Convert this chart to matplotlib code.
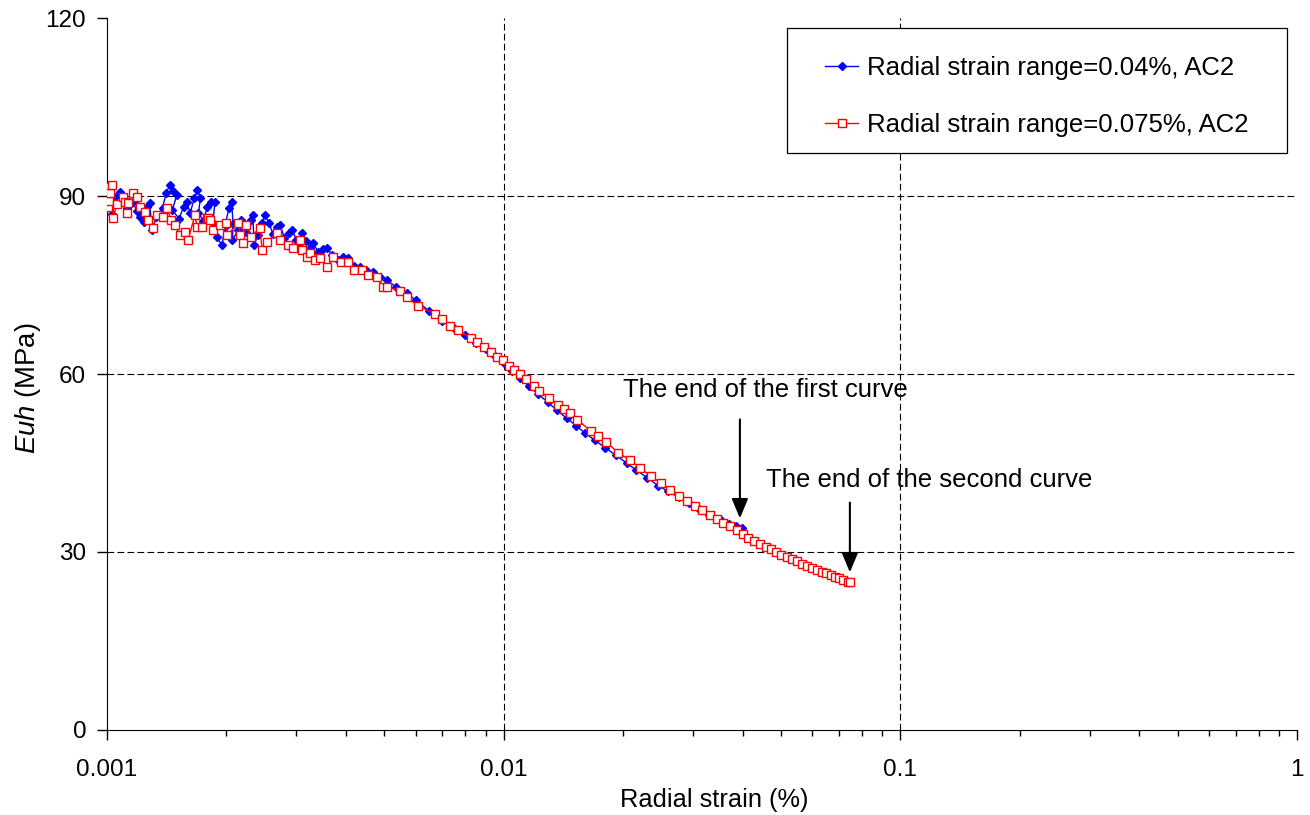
import matplotlib
matplotlib.use('Agg')
import matplotlib.pyplot as plt
from matplotlib.patches import Rectangle
import numpy as np

plt.rcParams['font.family'] = ['Liberation Sans', 'DejaVu Sans']
plt.rcParams['mathtext.fontset'] = 'custom'
plt.rcParams['mathtext.it'] = 'Liberation Sans:italic'
plt.rcParams['mathtext.rm'] = 'Liberation Sans'

# radial strain values below are in units of 1e-3 %
blue_x = [1.00, 1.01, 1.03, 1.05, 1.08, 1.10, 1.12, 1.16, 1.19, 1.21, 1.24, 1.26, 1.28,
          1.30, 1.33, 1.38, 1.41, 1.44, 1.47, 1.50, 1.46, 1.52, 1.56, 1.59, 1.62, 1.66,
          1.69, 1.72, 1.70, 1.75, 1.79, 1.83, 1.87, 1.85, 1.89, 1.95, 1.98, 2.03, 2.06,
          2.08, 2.07, 2.14, 2.18, 2.24, 2.30, 2.33, 2.35, 2.40, 2.46, 2.50, 2.56, 2.62,
          2.68, 2.73, 2.80, 2.88, 2.93, 3.00, 3.07, 3.10, 3.18, 3.25, 3.31, 3.40, 3.50,
          3.59, 3.70, 3.82, 3.94, 4.05, 4.20, 4.35, 4.50, 4.69, 4.88, 5.08, 5.35, 5.70,
          6.0, 6.5, 7.0, 7.5, 8.0, 8.5, 9.0, 9.5, 10.0, 10.5, 11.0, 11.6, 12.2, 12.9,
          13.6, 14.4, 15.2, 16.0, 17.0, 18.0, 19.2, 20.4, 21.6, 23.0, 24.5, 26.0, 27.6,
          29.3, 31.0, 33.0, 35.0, 37.0, 38.5, 39.9]
blue_y = [88.5, 90.2, 87.0, 89.8, 90.7, 89.5, 88.0, 89.0, 87.5, 86.5, 85.6, 88.2, 88.8,
          84.3, 86.5, 88.0, 90.5, 91.9, 90.8, 90.2, 87.6, 86.2, 88.2, 89.0, 87.1, 89.7,
          91.0, 89.7, 87.1, 85.8, 88.2, 89.0, 89.0, 85.5, 83.1, 81.7, 84.8, 88.0, 89.0,
          85.2, 82.6, 84.2, 86.0, 84.0, 86.0, 86.8, 81.7, 83.5, 85.5, 86.8, 85.5, 83.6,
          84.8, 85.1, 83.0, 83.8, 84.3, 82.6, 81.4, 83.8, 82.5, 81.3, 82.1, 80.6, 81.0,
          81.2, 80.0, 79.2, 79.7, 79.6, 78.2, 78.0, 77.6, 77.2, 76.4, 75.8, 74.7, 73.7,
          72.4, 70.6, 69.0, 67.7, 66.5, 65.3, 64.2, 63.0, 61.8, 60.5, 59.3, 57.9, 56.6,
          55.3, 53.9, 52.6, 51.3, 50.1, 48.8, 47.6, 46.3, 45.0, 43.8, 42.5, 41.2, 40.2,
          39.2, 38.2, 37.3, 36.3, 35.5, 34.8, 34.4, 34.0]

red_x = [1.000, 1.003, 1.006, 1.012, 1.018, 1.029, 1.035, 1.06, 1.097, 1.11, 1.123, 1.129,
         1.163, 1.19, 1.21, 1.247, 1.27, 1.306, 1.337, 1.384, 1.416, 1.45, 1.484, 1.527,
         1.572, 1.600, 1.667, 1.686, 1.74, 1.787, 1.80, 1.82, 1.85, 1.93, 1.99, 2.01, 2.14,
         2.17, 2.20, 2.24, 2.30, 2.43, 2.46, 2.53, 2.68, 2.73, 2.86, 2.95, 3.07, 3.10,
         3.20, 3.25, 3.35, 3.44, 3.59, 3.71, 3.88, 4.05, 4.20, 4.39, 4.55, 4.79, 4.95,
         5.07, 5.49, 5.70, 6.09, 6.70, 7.00, 7.34, 7.66, 8.26, 8.58, 8.94, 9.30, 9.62,
         9.98, 10.31, 10.63, 10.99, 11.36, 11.94, 12.29, 13.01, 13.73, 14.21, 14.69,
         15.33, 16.57, 17.30, 18.11, 19.45, 20.82, 22.06, 23.48, 24.92, 26.2, 27.67,
         29.0, 30.35, 31.7, 33.11, 34.4, 35.78, 37.20, 38.67, 40.06, 41.38, 42.84, 44.28,
         45.77, 47.20, 48.59, 50.03, 51.71, 53.21, 54.78, 56.39, 58.05, 59.76, 61.52,
         63.33, 64.93, 66.72, 68.41, 70.15, 71.80, 73.94, 74.6]
red_y = [90.0, 91.5, 88.1, 89.2, 90.5, 91.9, 86.3, 88.7, 89.8, 89.0, 87.1, 88.8,
         90.5, 89.8, 88.2, 87.3, 86.0, 84.6, 86.8, 86.5, 88.0, 86.0, 85.1, 83.4,
         84.0, 82.6, 86.8, 84.8, 84.8, 86.3, 86.3, 86.0, 84.3, 85.1, 85.5, 83.4, 85.5,
         83.4, 82.1, 85.1, 83.1, 84.6, 80.9, 82.3, 83.8, 82.6, 81.7, 81.2, 82.6, 80.9,
         79.7, 80.4, 79.2, 79.6, 78.0, 79.7, 78.9, 78.9, 77.5, 77.5, 76.7, 76.4, 74.7,
         74.7, 74.0, 72.9, 71.5, 70.1, 69.3, 68.1, 67.4, 66.1, 65.4, 64.5, 63.7, 62.9,
         62.4, 61.4, 60.6, 60.0, 59.2, 58.0, 57.2, 56.0, 54.8, 54.1, 53.4,
         52.3, 50.4, 49.6, 48.6, 46.7, 45.5, 44.2, 42.8, 41.6, 40.5, 39.5,
         38.6, 37.8, 37.0, 36.2, 35.5, 34.9, 34.3, 33.7, 33.0, 32.4, 31.9, 31.4,
         30.9, 30.5, 30.0, 29.5, 29.2, 28.8, 28.4, 28.0, 27.6, 27.3, 27.0,
         26.7, 26.4, 26.1, 25.8, 25.6, 25.3, 25.0, 25.0]

blue_x = np.array(blue_x) * 1e-3
red_x = np.array(red_x) * 1e-3

fig = plt.figure(figsize=(13.1, 8.15), dpi=100)
ax = fig.add_axes([0.0817, 0.1043, 0.9084, 0.8736])

ax.plot(blue_x, blue_y, color='#0000ff', lw=1.0, marker='D', ms=4.3, mec='#0000ff',
        mfc='#0000ff', label='Radial strain range=0.04%, AC2', zorder=3)
ax.plot(red_x, red_y, color='#ff0000', lw=1.0, marker='s', ms=5.5, mec='#ff0000',
        mfc='white', mew=1.0, label='Radial strain range=0.075%, AC2', zorder=4)

ax.set_xscale('log')
ax.set_xlim(0.001, 1)
ax.set_ylim(0, 120)
ax.set_yticks([0, 30, 60, 90, 120])
ax.set_xticks([0.001, 0.01, 0.1, 1])
ax.set_xticklabels(['0.001', '0.01', '0.1', '1'])

for yv in [30, 60, 90]:
    ax.axhline(yv, color='black', lw=0.8, ls=(0, (6, 3)), zorder=1)
for xv in [0.01, 0.1]:
    ax.axvline(xv, color='black', lw=0.8, ls=(0, (6, 3)), zorder=1)

ax.spines['top'].set_visible(False)
ax.spines['right'].set_visible(False)
ax.tick_params(axis='both', which='major', labelsize=17.5, length=7, width=1,
               direction='out', pad=8)
ax.tick_params(axis='x', which='major', pad=14)
ax.tick_params(axis='x', which='minor', length=4, width=1, direction='out')
ax.tick_params(axis='y', which='minor', left=False)

ax.set_xlabel('Radial strain (%)', fontsize=18.3)
ax.xaxis.set_label_coords(0.51, -0.082)
ax.set_ylabel(r'$\mathit{Euh}$ (MPa)', fontsize=19.8)
ax.yaxis.set_label_coords(-0.054, 0.48)

# legend box drawn separately, legend itself without frame
ax.add_patch(Rectangle((0.5714, 0.8104), 0.4202, 0.1756, transform=ax.transAxes,
                       facecolor='white', edgecolor='black', lw=0.9, zorder=5))
leg = ax.legend(loc='upper left', bbox_to_anchor=(0.6034, 0.947), fontsize=18.5,
                frameon=False, handlelength=1.3, handletextpad=0.35,
                labelspacing=1.3, borderpad=0, borderaxespad=0)
leg.set_zorder(6)

ax.annotate('', xy=(0.0394, 35.2), xytext=(0.0394, 52.8),
            arrowprops=dict(arrowstyle='-|>,head_length=0.6,head_width=0.25',
                            color='black', lw=1.5, mutation_scale=20))
ax.text(0.02, 57.3, 'The end of the first curve', fontsize=18.5, va='center', ha='left')
ax.annotate('', xy=(0.0746, 26.1), xytext=(0.0746, 38.8),
            arrowprops=dict(arrowstyle='-|>,head_length=0.6,head_width=0.25',
                            color='black', lw=1.5, mutation_scale=20))
ax.text(0.0458, 42.1, 'The end of the second curve', fontsize=18.5, va='center', ha='left')

fig.savefig('out.png', dpi=100)
